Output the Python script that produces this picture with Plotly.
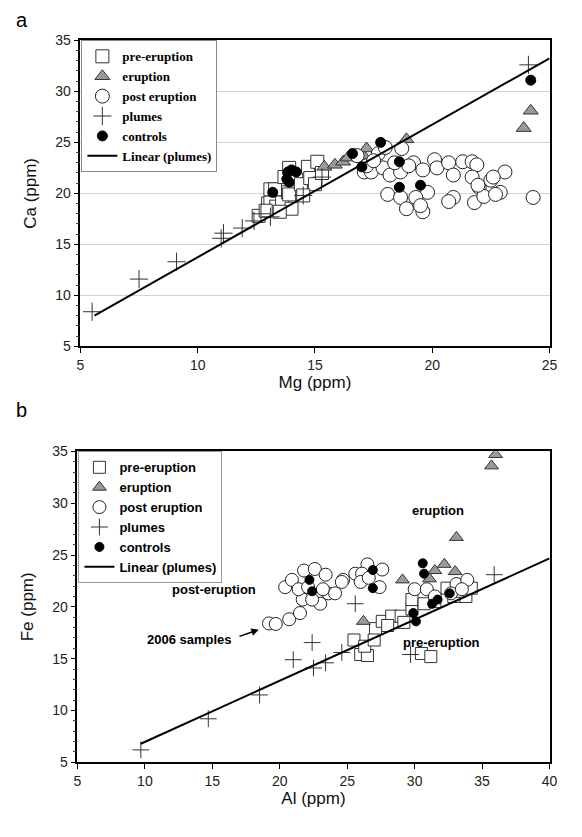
import plotly.graph_objects as go

# ---------------- Panel a : Ca vs Mg ----------------
a_pre_mg = [12.6, 13.0, 13.1, 13.1, 13.3, 13.35, 13.6, 13.7, 13.85, 13.9, 13.9, 14.2, 14.4, 14.7, 14.8, 15.0, 15.1, 14.5, 14.0, 15.3, 13.5, 12.9]
a_pre_ca = [17.8, 19.0, 19.1, 20.4, 20.4, 18.7, 19.1, 21.6, 20.1, 19.9, 22.5, 21.6, 20.9, 22.6, 21.5, 20.9, 23.1, 19.8, 18.5, 22.0, 18.2, 18.3]

a_eru_mg = [15.4, 15.85, 16.2, 16.4, 17.1, 17.2, 18.9, 23.9, 24.2]
a_eru_ca = [22.6, 22.8, 23.1, 23.5, 23.6, 24.4, 25.3, 26.4, 28.1]

a_post_mg = [16.8, 17.1, 17.4, 17.9, 18.2, 18.7, 18.1, 18.65, 18.9, 18.65, 19.2, 19.6, 20.1, 20.2, 20.7, 20.9, 21.3, 21.7, 21.9, 21.7, 22.0, 22.5, 23.1, 22.9, 21.8, 20.9, 20.7, 24.3, 19.6, 19.8, 19.3, 19.5, 22.2, 22.7, 17.7, 17.2, 18.4, 19.0, 22.6, 21.95, 18.0, 17.5]
a_post_ca = [23.7, 22.1, 22.1, 22.5, 21.8, 24.4, 19.9, 19.6, 18.5, 22.1, 23.0, 22.3, 23.3, 22.5, 23.0, 21.8, 23.1, 23.1, 22.8, 21.6, 20.6, 21.3, 22.1, 20.1, 19.1, 19.6, 19.2, 19.6, 18.2, 20.1, 19.6, 18.8, 19.7, 19.9, 23.9, 22.7, 23.0, 22.7, 21.6, 20.8, 24.5, 23.2]

a_plume_mg = [5.5, 7.5, 9.1, 11.0, 11.1, 11.9, 12.4, 12.7, 13.1, 15.3, 14.5, 24.1]
a_plume_ca = [8.4, 11.6, 13.3, 15.6, 16.1, 16.6, 17.3, 18.0, 17.7, 21.6, 19.8, 32.6]

a_ctrl_mg = [13.2, 13.85, 14.0, 14.2, 13.8, 13.9, 16.6, 17.0, 17.8, 18.6, 18.6, 19.5, 24.2]
a_ctrl_ca = [20.1, 22.1, 22.3, 22.1, 21.4, 21.1, 23.9, 22.6, 25.0, 23.1, 20.6, 20.8, 31.1]

a_fit_slope, a_fit_intercept = 1.30, 0.74
a_fit_x = [5.6, 25.0]

# ---------------- Panel b : Fe vs Al ----------------
b_pre_al = [25.5, 26.0, 26.5, 26.3, 27.1, 27.6, 28.3, 29.0, 29.8, 29.8, 30.7, 32.4, 32.9, 33.8, 30.5, 31.2, 28.0, 31.5, 33.2, 34.2, 27.0, 29.2]
b_pre_fe = [16.8, 15.4, 15.3, 16.2, 17.9, 18.6, 19.1, 19.1, 19.8, 20.7, 20.3, 21.8, 21.0, 21.0, 15.5, 15.2, 18.2, 20.5, 21.5, 21.8, 16.8, 18.5]

b_eru_al = [26.2, 29.1, 31.1, 31.5, 32.2, 33.0, 33.1, 35.7, 36.0]
b_eru_fe = [18.6, 22.6, 22.7, 23.5, 24.1, 23.4, 26.7, 33.6, 34.7]

b_post_al = [19.2, 19.7, 20.7, 21.5, 20.4, 20.9, 21.8, 22.6, 23.4, 23.0, 23.6, 24.7, 25.6, 21.7, 22.4, 21.4, 22.1, 23.2, 26.5, 27.6, 26.1, 24.6, 26.0, 27.4, 24.1, 26.6, 30.0, 30.9, 31.5, 33.1, 33.9, 32.7, 33.5]
b_post_fe = [18.4, 18.35, 18.8, 19.4, 21.9, 22.6, 23.5, 23.65, 23.1, 20.3, 21.3, 22.6, 23.2, 20.7, 20.7, 21.7, 21.9, 21.7, 24.1, 23.6, 23.2, 22.4, 22.4, 21.9, 21.3, 22.8, 21.7, 21.7, 21.0, 22.2, 22.6, 21.3, 21.7]

b_plume_al = [9.7, 14.7, 18.5, 21.0, 22.4, 22.5, 23.4, 24.6, 25.6, 29.7, 35.9]
b_plume_fe = [6.2, 9.2, 11.5, 14.9, 16.55, 14.1, 14.6, 15.6, 20.3, 15.4, 23.1]

b_ctrl_al = [22.2, 22.4, 26.9, 26.9, 30.6, 30.7, 32.6, 31.7, 31.3, 29.9, 30.1]
b_ctrl_fe = [22.6, 21.5, 23.55, 21.8, 24.2, 23.2, 21.3, 20.7, 20.3, 19.4, 18.6]

b_fit_slope, b_fit_intercept = 0.59, 1.07
b_fit_x = [9.7, 40.0]

series_names = ["pre-eruption", "eruption", "post eruption", "plumes", "controls", "Linear (plumes)"]

fig = go.Figure()

def add_panel(xa, ya, legend, data, fit, msize):
    (pre, eru, post, plume, ctrl) = data
    fig.add_trace(go.Scatter(x=pre[0], y=pre[1], mode="markers", name=series_names[0],
                             xaxis=xa, yaxis=ya, legend=legend,
                             marker=dict(symbol="square", size=msize, color="white",
                                         line=dict(color="#333333", width=1))))
    fig.add_trace(go.Scatter(x=eru[0], y=eru[1], mode="markers", name=series_names[1],
                             xaxis=xa, yaxis=ya, legend=legend,
                             marker=dict(symbol="triangle-up", size=msize, color="#9a9a9a",
                                         line=dict(color="#333333", width=1))))
    fig.add_trace(go.Scatter(x=post[0], y=post[1], mode="markers", name=series_names[2],
                             xaxis=xa, yaxis=ya, legend=legend,
                             marker=dict(symbol="circle", size=msize + 1, color="white",
                                         line=dict(color="#222222", width=1))))
    fig.add_trace(go.Scatter(x=plume[0], y=plume[1], mode="markers", name=series_names[3],
                             xaxis=xa, yaxis=ya, legend=legend,
                             marker=dict(symbol="cross-thin", size=msize, color="#333333",
                                         line=dict(color="#333333", width=1))))
    fig.add_trace(go.Scatter(x=ctrl[0], y=ctrl[1], mode="markers", name=series_names[4],
                             xaxis=xa, yaxis=ya, legend=legend,
                             marker=dict(symbol="circle", size=msize - 3, color="black",
                                         line=dict(color="black", width=1))))
    slope, intercept, fx = fit
    fig.add_trace(go.Scatter(x=fx, y=[slope * v + intercept for v in fx], mode="lines",
                             name=series_names[5], xaxis=xa, yaxis=ya, legend=legend,
                             line=dict(color="black", width=2)))

add_panel("x", "y", "legend",
          [(a_pre_mg, a_pre_ca), (a_eru_mg, a_eru_ca), (a_post_mg, a_post_ca),
           (a_plume_mg, a_plume_ca), (a_ctrl_mg, a_ctrl_ca)],
          (a_fit_slope, a_fit_intercept, a_fit_x), 13)
add_panel("x2", "y2", "legend2",
          [(b_pre_al, b_pre_fe), (b_eru_al, b_eru_fe), (b_post_al, b_post_fe),
           (b_plume_al, b_plume_fe), (b_ctrl_al, b_ctrl_fe)],
          (b_fit_slope, b_fit_intercept, b_fit_x), 12)

W, H = 582, 837
def px(v): return v / W
def py(v): return 1 - v / H

sans = "Liberation Sans, Arial, sans-serif"
tickfont = dict(family=sans, size=14, color="#222222")
titlefont = dict(family=sans, size=17, color="#111111")

common_x = dict(showline=True, linecolor="black", linewidth=1.5, mirror=True,
                ticks="outside", ticklen=5, tickcolor="black", tickfont=tickfont,
                showgrid=False, zeroline=False)
common_y = dict(showline=True, linecolor="black", linewidth=1.5, mirror=True,
                ticks="outside", ticklen=5, tickcolor="black", tickfont=tickfont,
                zeroline=False, range=[5, 35], dtick=5,
                minor=dict(dtick=1, ticks="outside", ticklen=3, tickcolor="#444444"))

fig.update_layout(
    width=W, height=H, margin=dict(l=0, r=0, t=0, b=0),
    paper_bgcolor="white", plot_bgcolor="white",
    xaxis=dict(common_x, domain=[px(78), px(557)], range=[5, 25], dtick=5, anchor="y",
               title=dict(text="Mg (ppm)", font=titlefont, standoff=4)),
    yaxis=dict(common_y, domain=[py(345), py(33)], anchor="x", showgrid=True,
               gridcolor="#d4d4d4", gridwidth=1,
               title=dict(text="Ca (ppm)", font=titlefont, standoff=14)),
    xaxis2=dict(common_x, domain=[px(75), px(557)], range=[5, 40], dtick=5, anchor="y2",
                title=dict(text="Al (ppm)", font=titlefont, standoff=4)),
    yaxis2=dict(common_y, domain=[py(769), py(452)], anchor="x2", showgrid=False,
                title=dict(text="Fe (ppm)", font=titlefont, standoff=14)),
    legend=dict(x=px(79), y=py(33), xanchor="left", yanchor="top",
                bgcolor="white", bordercolor="#888888", borderwidth=1,
                font=dict(family="Liberation Serif, Times New Roman, serif", size=13,
                          color="black", weight="bold"),
                tracegroupgap=0, itemwidth=30),
    legend2=dict(x=px(76), y=py(452), xanchor="left", yanchor="top",
                 bgcolor="white", bordercolor="#999999", borderwidth=1,
                 font=dict(family=sans, size=13, color="black", weight="bold"),
                 tracegroupgap=0, itemwidth=30),
    showlegend=True,
)

ann_font = dict(family=sans, size=13, color="black", weight="bold")
fig.add_annotation(text="a", xref="paper", yref="paper", x=px(10), y=py(12),
                   showarrow=False, font=dict(family=sans, size=20, color="black"),
                   xanchor="left", yanchor="middle")
fig.add_annotation(text="b", xref="paper", yref="paper", x=px(10), y=py(410),
                   showarrow=False, font=dict(family=sans, size=20, color="black"),
                   xanchor="left", yanchor="middle")
fig.add_annotation(text="eruption", xref="x2", yref="y2", x=31.7, y=29.3,
                   showarrow=False, font=ann_font)
fig.add_annotation(text="post-eruption", xref="x2", yref="y2", x=15.1, y=21.7,
                   showarrow=False, font=ann_font)
fig.add_annotation(text="pre-eruption", xref="x2", yref="y2", x=32.0, y=16.6,
                   showarrow=False, font=ann_font)
fig.add_annotation(text="2006 samples", xref="x2", yref="y2", x=16.6, y=16.8,
                   xanchor="right", showarrow=False, font=ann_font)
fig.add_annotation(text="", xref="x2", yref="y2", x=18.45, y=17.8,
                   axref="x2", ayref="y2", ax=16.9, ay=17.1,
                   showarrow=True, arrowhead=2, arrowsize=1, arrowwidth=1.5,
                   arrowcolor="black")

fig.write_html("out.html")
